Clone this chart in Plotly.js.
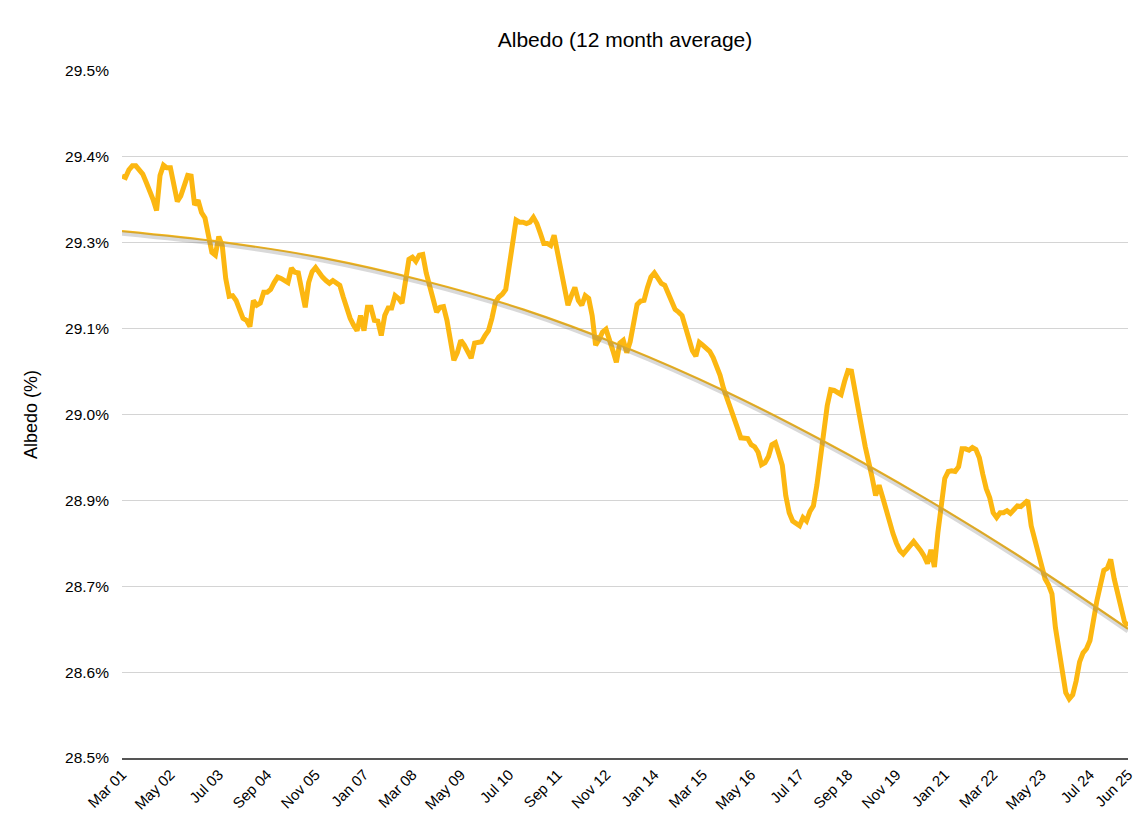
<!DOCTYPE html>
<html>
<head>
<meta charset="utf-8">
<script src="https://cdn.plot.ly/plotly-3.0.1.min.js"></script>
<style>html,body{margin:0;padding:0;background:#fff;}#chart{width:1148px;height:832px;}</style>
</head>
<body>
<div id="chart"></div>
<script>
// Monthly categories, Mar 2001 .. Jun 2025
const monthNames = ['Jan','Feb','Mar','Apr','May','Jun','Jul','Aug','Sep','Oct','Nov','Dec'];
const startYear = 2001, startMonth = 2, monthCount = 292;
const categories = [];
for (let k = 0; k < monthCount; k++) {
  const m = (startMonth + k) % 12;
  const y = startYear + Math.floor((startMonth + k) / 12);
  categories.push(monthNames[m] + ' ' + String(y % 100).padStart(2, '0'));
}

// Albedo, 12 month average (%)
const albedo = [
29.347,29.345,29.356,29.362,29.362,29.356,29.350,29.338,29.327,29.313,
29.297,29.348,29.363,29.359,29.359,29.334,29.310,29.318,29.332,29.348,
29.347,29.305,29.312,29.294,29.286,29.262,29.236,29.232,29.259,29.246,
29.198,29.172,29.173,29.166,29.153,29.140,29.137,29.128,29.166,29.159,
29.162,29.178,29.178,29.182,29.192,29.200,29.198,29.195,29.192,29.213,
29.207,29.206,29.176,29.156,29.192,29.208,29.214,29.206,29.200,29.195,
29.191,29.195,29.192,29.188,29.171,29.153,29.140,29.130,29.122,29.144,
29.122,29.156,29.156,29.137,29.136,29.115,29.144,29.155,29.155,29.173,
29.169,29.162,29.191,29.226,29.229,29.223,29.232,29.233,29.206,29.187,
29.166,29.149,29.156,29.157,29.137,29.105,29.079,29.090,29.108,29.101,
29.093,29.082,29.104,29.105,29.106,29.115,29.122,29.140,29.163,29.171,
29.175,29.182,29.217,29.259,29.283,29.280,29.280,29.278,29.280,29.287,
29.278,29.264,29.249,29.249,29.246,29.261,29.235,29.203,29.181,29.159,
29.173,29.185,29.166,29.159,29.173,29.169,29.144,29.101,29.109,29.120,
29.124,29.111,29.093,29.076,29.104,29.108,29.090,29.106,29.134,29.160,
29.165,29.166,29.185,29.200,29.206,29.198,29.191,29.188,29.175,29.163,
29.153,29.149,29.144,29.127,29.108,29.093,29.085,29.105,29.101,29.096,
29.092,29.083,29.071,29.057,29.038,29.025,29.007,28.994,28.981,28.966,
28.966,28.965,28.956,28.953,28.945,28.927,28.930,28.939,28.956,28.959,
28.943,28.926,28.882,28.857,28.845,28.841,28.838,28.850,28.845,28.859,
28.867,28.897,28.940,28.972,29.013,29.036,29.035,29.032,29.029,29.048,
29.064,29.063,29.032,29.007,28.980,28.953,28.933,28.908,28.882,28.897,
28.880,28.860,28.840,28.827,28.813,28.802,28.797,28.802,28.809,28.815,
28.809,28.802,28.794,28.783,28.803,28.778,28.828,28.875,28.907,28.917,
28.918,28.917,28.924,28.950,28.950,28.948,28.952,28.949,28.937,28.913,
28.892,28.879,28.857,28.850,28.857,28.857,28.860,28.856,28.862,28.867,
28.866,28.870,28.875,28.838,28.819,28.800,28.777,28.761,28.752,28.739,
28.690,28.656,28.620,28.595,28.586,28.592,28.612,28.640,28.653,28.659,
28.671,28.703,28.729,28.751,28.773,28.776,28.789,28.761,28.739,28.720,
28.698,28.692
];

// Trend line values at these month indices
const trendIdx  = [0, 29, 58, 87, 116, 145, 174, 203, 232, 261, 291];
const trendVals = [29.267, 29.251, 29.228, 29.195, 29.153, 29.099, 29.035, 28.961, 28.879, 28.789, 28.688];

// Axis ticks
const xTickLabels = ['Mar 01','May 02','Jul 03','Sep 04','Nov 05','Jan 07','Mar 08','May 09','Jul 10','Sep 11','Nov 12','Jan 14','Mar 15','May 16','Jul 17','Sep 18','Nov 19','Jan 21','Mar 22','May 23','Jul 24','Jun 25'];
const yTickVals = [28.5, 28.625, 28.75, 28.875, 29.0, 29.125, 29.25, 29.375, 29.5];
const yTickText = ['28.5%','28.6%','28.7%','28.9%','29.0%','29.1%','29.3%','29.4%','29.5%'];

const FONT = 'Liberation Sans, Arial, Helvetica, sans-serif';
const trendX = trendIdx.map(i => categories[i]);

const traces = [
  { x: trendX, y: trendVals, type: 'scatter', mode: 'lines', yaxis: 'y2',
    line: { color: 'rgba(120,120,120,0.28)', width: 5, shape: 'spline', smoothing: 1 },
    hoverinfo: 'skip', showlegend: false },
  { x: categories, y: albedo, type: 'scatter', mode: 'lines',
    line: { color: '#FCB711', width: 5 }, showlegend: false },
  { x: trendX, y: trendVals, type: 'scatter', mode: 'lines',
    line: { color: '#FDBA12', width: 2.2, shape: 'spline', smoothing: 1 }, showlegend: false }
];

const layout = {
  width: 1148, height: 832,
  margin: { l: 122, r: 20, t: 71, b: 74 },
  paper_bgcolor: '#fff', plot_bgcolor: '#fff',
  font: { family: FONT, color: '#000' },
  showlegend: false,
  title: { text: 'Albedo (12 month average)', x: 0.5, xref: 'paper', xanchor: 'center',
           y: 1 - 40/832, yref: 'container', yanchor: 'middle',
           font: { family: FONT, size: 21, color: '#000' } },
  xaxis: {
    type: 'category', categoryorder: 'array', categoryarray: categories,
    range: [0, monthCount - 1],
    tickmode: 'array', tickvals: xTickLabels, ticktext: xTickLabels,
    tickangle: -45, tickfont: { family: FONT, size: 15, color: '#000' },
    showgrid: false, zeroline: false,
    showline: true, linecolor: '#555', linewidth: 2,
    ticks: '', fixedrange: true
  },
  yaxis: {
    range: [28.5, 29.5], tickmode: 'array', tickvals: yTickVals, ticktext: yTickText,
    tickfont: { family: FONT, size: 15.5, color: '#000' },
    ticklabelstandoff: 12,
    showgrid: true, gridcolor: '#d4d4d4', gridwidth: 1,
    zeroline: false, showline: false, ticks: '',
    title: { text: 'Albedo (%)', standoff: 22, font: { family: FONT, size: 18, color: '#000' } }
  },
  yaxis2: {
    overlaying: 'y', range: [28.503, 29.503], visible: false, showgrid: false
  }
};

Plotly.newPlot('chart', traces, layout, { displayModeBar: false, staticPlot: true });
</script>
</body>
</html>
